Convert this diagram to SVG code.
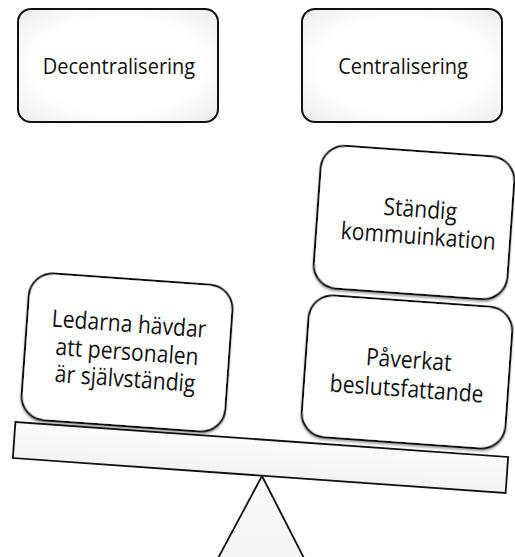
<svg xmlns="http://www.w3.org/2000/svg" width="515" height="557" viewBox="0 0 515 557">
  <style>
    .box { fill: url(#soft); stroke: #111; stroke-width: 2; }
    .card { fill: #fff; stroke: #111; stroke-width: 2; filter: url(#shadow); }
    .beam { fill: url(#beamFill); stroke: #111; stroke-width: 1.8; }
    .lbl { font-family: "Open Sans", "Liberation Sans", sans-serif; fill: #111; text-anchor: middle; }
    .small { font-size: 22px; }
    .big { font-size: 24px; }
  </style>
  <defs>
    <radialGradient id="soft" cx="50%" cy="50%" r="70%">
      <stop offset="0.6" stop-color="#ffffff"/>
      <stop offset="1" stop-color="#ececec"/>
    </radialGradient>
    <linearGradient id="beamFill" x1="0" y1="0" x2="0" y2="1">
      <stop offset="0" stop-color="#fbfbfb"/>
      <stop offset="1" stop-color="#f3f3f3"/>
    </linearGradient>
    <filter id="shadow" x="-10%" y="-10%" width="120%" height="125%">
      <feDropShadow dx="0" dy="2" stdDeviation="1.2" flood-color="#000" flood-opacity="0.35"/>
    </filter>
  </defs>

  <!-- heading boxes -->
  <g id="decentralisering">
    <rect class="box" x="18" y="9" width="200" height="113" rx="13"/>
    <g transform="translate(119 74) scale(0.91 1)">
      <text class="lbl small" x="0" y="0">Decentralisering</text>
    </g>
  </g>
  <g id="centralisering">
    <rect class="box" x="302" y="9" width="200" height="113" rx="13"/>
    <g transform="translate(403 74) scale(0.91 1)">
      <text class="lbl small" x="0" y="0">Centralisering</text>
    </g>
  </g>

  <!-- fulcrum and beam -->
  <g id="fulcrum">
    <polygon class="beam" points="262,476 216,562 306,562"/>
  </g>
  <g id="beam">
    <rect class="beam" x="-247" y="-18" width="494" height="36" transform="translate(260.5 457.5) rotate(4.06)"/>
  </g>

  <!-- weights on the beam -->
  <g id="ledarna" transform="translate(127 353) rotate(4.1)">
    <rect class="card" x="-102" y="-74" width="204" height="147" rx="24"/>
    <g transform="scale(0.88 1)">
      <text class="lbl big" x="0" y="-21">Ledarna hävdar</text>
      <text class="lbl big" x="0" y="7">att personalen</text>
      <text class="lbl big" x="0" y="34">är självständig</text>
    </g>
  </g>
  <g id="paverkat" transform="translate(407 372) rotate(4.1)">
    <rect class="card" x="-102" y="-71" width="204" height="142" rx="24"/>
    <g transform="scale(0.88 1)">
      <text class="lbl big" x="1" y="-4">Påverkat</text>
      <text class="lbl big" x="1" y="25">beslutsfattande</text>
    </g>
  </g>
  <g id="standig" transform="translate(414 223) rotate(4.1)">
    <rect class="card" x="-97" y="-72" width="194" height="143" rx="24"/>
    <g transform="scale(0.88 1)">
      <text class="lbl big" x="6" y="-6">Ständig</text>
      <text class="lbl big" x="6" y="21">kommuinkation</text>
    </g>
  </g>
</svg>
